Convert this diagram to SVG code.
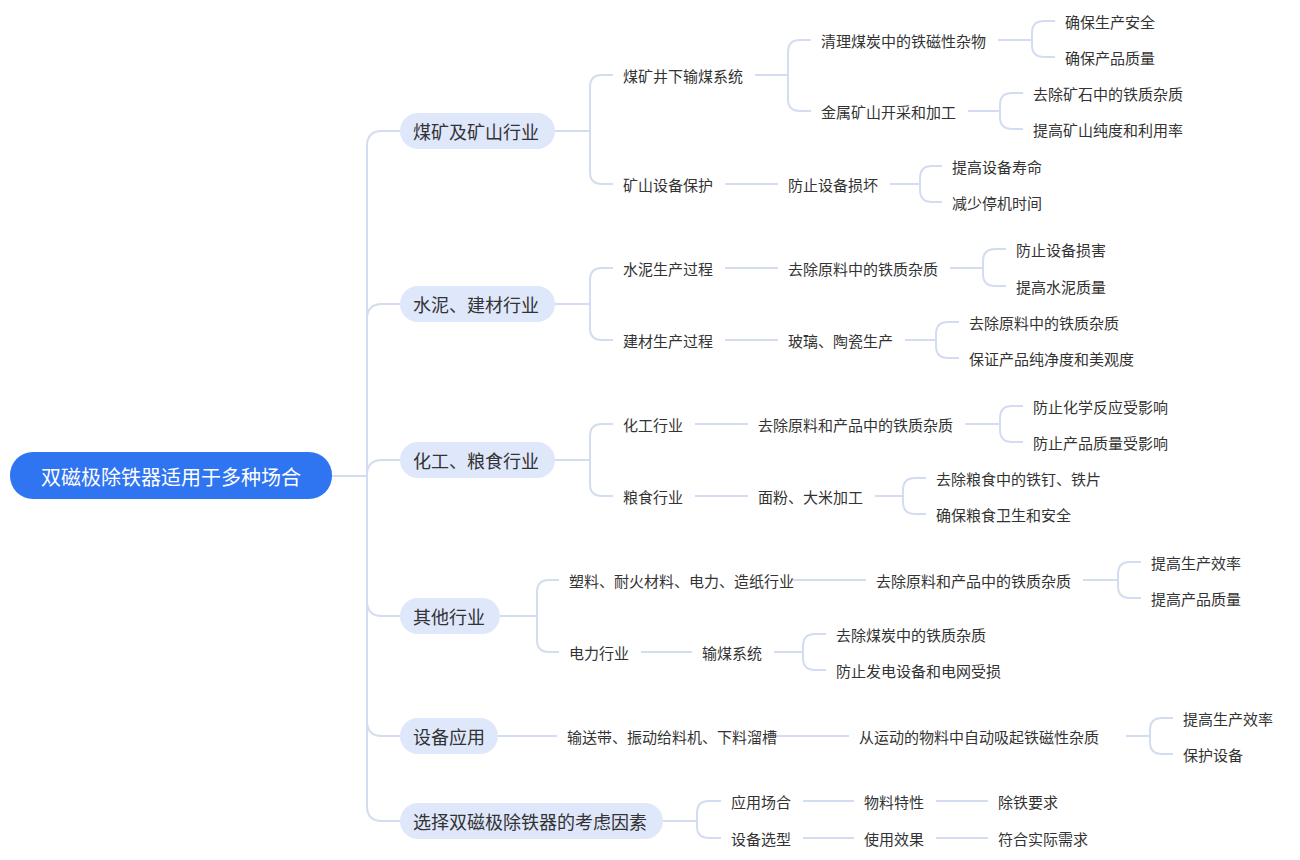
<svg xmlns="http://www.w3.org/2000/svg" width="1300" height="860" viewBox="0 0 1300 860">
<style>
text{font-family:"Noto Sans CJK SC","Microsoft YaHei",sans-serif;fill:#333;dominant-baseline:central}
.t{font-size:15px}
.l1 text{font-size:18px}
.l1 rect{fill:#dfe7fb}
#c path{fill:none;stroke:#d3dcf0;stroke-width:2}
</style>
<rect width="1300" height="860" fill="#fff"/>
<g id="c">
<path d="M332,476 H367"/>
<path d="M367,476 V146 Q367,131 382,131 H400"/>
<path d="M367,476 V319 Q367,304 382,304 H400"/>
<path d="M367,476 V475 Q367,460 382,460 H400"/>
<path d="M367,476 V601 Q367,616 382,616 H400"/>
<path d="M367,476 V721 Q367,736 382,736 H400"/>
<path d="M367,476 V806 Q367,821 382,821 H400"/>
<path d="M555,131 H590 M590,131 V87 Q590,75 602,75 H613 M590,131 V172 Q590,184 602,184 H613"/>
<path d="M755,75 H788 M788,75 V52 Q788,40 800,40 H811 M788,75 V99 Q788,111 800,111 H811"/>
<path d="M998,40 H1032 M1032,40 V33 Q1032,21 1044,21 H1055 M1032,40 V45 Q1032,57 1044,57 H1055"/>
<path d="M968,111 H1000 M1000,111 V105 Q1000,93 1012,93 H1023 M1000,111 V117 Q1000,129 1012,129 H1023"/>
<path d="M725,184 H778"/>
<path d="M890,184 H920 M920,184 V178 Q920,166 932,166 H942 M920,184 V190 Q920,202 932,202 H942"/>
<path d="M555,304 H590 M590,304 V280 Q590,268 602,268 H613 M590,304 V328 Q590,340 602,340 H613"/>
<path d="M725,268 H778 M725,340 H778"/>
<path d="M950,268 H983 M983,268 V261 Q983,249 995,249 H1006 M983,268 V274 Q983,286 995,286 H1006"/>
<path d="M905,340 H936 M936,340 V334 Q936,322 948,322 H959 M936,340 V346 Q936,358 948,358 H959"/>
<path d="M555,460 H590 M590,460 V436 Q590,424 602,424 H613 M590,460 V484 Q590,496 602,496 H613"/>
<path d="M695,424 H748 M695,496 H748"/>
<path d="M965,424 H1000 M1000,424 V418 Q1000,406 1012,406 H1023 M1000,424 V430 Q1000,442 1012,442 H1023"/>
<path d="M875,496 H903 M903,496 V490 Q903,478 915,478 H926 M903,496 V502 Q903,514 915,514 H926"/>
<path d="M500,616 H537 M537,616 V592 Q537,580 549,580 H559 M537,616 V640 Q537,652 549,652 H559"/>
<path d="M791,580 H866 M641,652 H692"/>
<path d="M1083,580 H1118 M1118,580 V574 Q1118,562 1130,562 H1141 M1118,580 V586 Q1118,598 1130,598 H1141"/>
<path d="M774,652 H803 M803,652 V646 Q803,634 815,634 H826 M803,652 V658 Q803,670 815,670 H826"/>
<path d="M498,736 H557 M774,736 H849"/>
<path d="M1126,736 H1150 M1150,736 V730 Q1150,718 1162,718 H1173 M1150,736 V742 Q1150,754 1162,754 H1173"/>
<path d="M663,821 H697 M697,821 V813 Q697,801 709,801 H721 M697,821 V826 Q697,838 709,838 H721"/>
<path d="M803,801 H854 M936,801 H988 M803,838 H854 M936,838 H988"/>
</g>
<g id="root"><rect x="10" y="452" width="322" height="47" rx="23" fill="#2f74f0"/><text x="171" y="476" text-anchor="middle" style="font-size:20px;fill:#fff">双磁极除铁器适用于多种场合</text></g>
<g id="n1" class="l1"><rect x="400" y="113" width="155" height="36" rx="18"/><text x="413" y="131">煤矿及矿山行业</text></g>
<g id="n2" class="l1"><rect x="400" y="286" width="155" height="36" rx="18"/><text x="413" y="304">水泥、建材行业</text></g>
<g id="n3" class="l1"><rect x="400" y="442" width="155" height="36" rx="18"/><text x="413" y="460">化工、粮食行业</text></g>
<g id="n4" class="l1"><rect x="400" y="598" width="100" height="36" rx="18"/><text x="413" y="616">其他行业</text></g>
<g id="n5" class="l1"><rect x="400" y="718" width="98" height="36" rx="18"/><text x="413" y="736">设备应用</text></g>
<g id="n6" class="l1"><rect x="400" y="803" width="263" height="36" rx="18"/><text x="413" y="821">选择双磁极除铁器的考虑因素</text></g>
<g class="t">
<g id="a1"><text x="623" y="75">煤矿井下输煤系统</text></g>
<g id="a2"><text x="623" y="184">矿山设备保护</text></g>
<g id="a3"><text x="821" y="40">清理煤炭中的铁磁性杂物</text></g>
<g id="a4"><text x="821" y="111">金属矿山开采和加工</text></g>
<g id="a5"><text x="788" y="184">防止设备损坏</text></g>
<g id="a6"><text x="1065" y="21">确保生产安全</text></g>
<g id="a7"><text x="1065" y="57">确保产品质量</text></g>
<g id="a8"><text x="1033" y="93">去除矿石中的铁质杂质</text></g>
<g id="a9"><text x="1033" y="129">提高矿山纯度和利用率</text></g>
<g id="a10"><text x="952" y="166">提高设备寿命</text></g>
<g id="a11"><text x="952" y="202">减少停机时间</text></g>
<g id="b1"><text x="623" y="268">水泥生产过程</text></g>
<g id="b2"><text x="623" y="340">建材生产过程</text></g>
<g id="b3"><text x="788" y="268">去除原料中的铁质杂质</text></g>
<g id="b4"><text x="788" y="340">玻璃、陶瓷生产</text></g>
<g id="b5"><text x="1016" y="249">防止设备损害</text></g>
<g id="b6"><text x="1016" y="286">提高水泥质量</text></g>
<g id="b7"><text x="969" y="322">去除原料中的铁质杂质</text></g>
<g id="b8"><text x="969" y="358">保证产品纯净度和美观度</text></g>
<g id="c1"><text x="623" y="424">化工行业</text></g>
<g id="c2"><text x="623" y="496">粮食行业</text></g>
<g id="c3"><text x="758" y="424">去除原料和产品中的铁质杂质</text></g>
<g id="c4"><text x="758" y="496">面粉、大米加工</text></g>
<g id="c5"><text x="1033" y="406">防止化学反应受影响</text></g>
<g id="c6"><text x="1033" y="442">防止产品质量受影响</text></g>
<g id="c7"><text x="936" y="478">去除粮食中的铁钉、铁片</text></g>
<g id="c8"><text x="936" y="514">确保粮食卫生和安全</text></g>
<g id="d1"><text x="569" y="580">塑料、耐火材料、电力、造纸行业</text></g>
<g id="d2"><text x="569" y="652">电力行业</text></g>
<g id="d3"><text x="876" y="580">去除原料和产品中的铁质杂质</text></g>
<g id="d4"><text x="702" y="652">输煤系统</text></g>
<g id="d5"><text x="1151" y="562">提高生产效率</text></g>
<g id="d6"><text x="1151" y="598">提高产品质量</text></g>
<g id="d7"><text x="836" y="634">去除煤炭中的铁质杂质</text></g>
<g id="d8"><text x="836" y="670">防止发电设备和电网受损</text></g>
<g id="e1"><text x="567" y="736">输送带、振动给料机、下料溜槽</text></g>
<g id="e2"><text x="859" y="736">从运动的物料中自动吸起铁磁性杂质</text></g>
<g id="e3"><text x="1183" y="718">提高生产效率</text></g>
<g id="e4"><text x="1183" y="754">保护设备</text></g>
<g id="f1"><text x="731" y="801">应用场合</text></g>
<g id="f2"><text x="731" y="838">设备选型</text></g>
<g id="f3"><text x="864" y="801">物料特性</text></g>
<g id="f4"><text x="864" y="838">使用效果</text></g>
<g id="f5"><text x="998" y="801">除铁要求</text></g>
<g id="f6"><text x="998" y="838">符合实际需求</text></g>
</g>
</svg>
